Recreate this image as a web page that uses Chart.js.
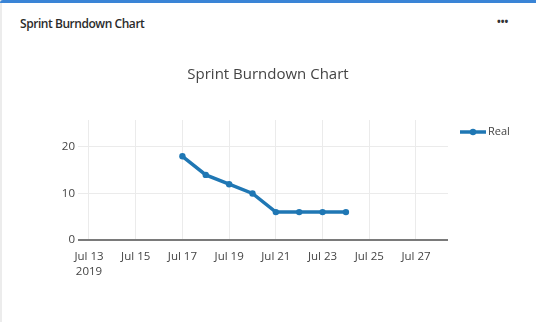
<!DOCTYPE html>
<html>
<head>
<meta charset="utf-8">
<script src="https://cdn.jsdelivr.net/npm/chart.js@4.4.1/dist/chart.umd.min.js"></script>
<style>
  html, body { margin: 0; padding: 0; background: #fff; }
  body { width: 536px; height: 322px; position: relative; overflow: hidden; font-family: "Open Sans", sans-serif; }
  .leftedge { position: absolute; left: 0; top: 0; width: 2px; height: 322px; background: #ececec; }
  .topbar { position: absolute; left: 0; top: 0; width: 536px; height: 3px; background: #3a84d6; border-top-left-radius: 3px; }
  .hdr { position: absolute; left: 20px; top: 15px; font-size: 12px; font-weight: 600; color: #2b2b2b; letter-spacing: -0.45px; }
  .dots { position: absolute; left: 497px; top: 14px; font-size: 10px; font-weight: 700; color: #333; letter-spacing: 0px; }
  canvas { position: absolute; left: 0; top: 0; }
</style>
</head>
<body>
<div class="leftedge"></div>
<div class="topbar"></div>
<div class="hdr">Sprint Burndown Chart</div>
<div class="dots">•••</div>
<canvas id="c" width="536" height="322"></canvas>
<script>
// Data (x = day of July 2019)
const seriesName = "Real";
const days = [17, 18, 19, 20, 21, 22, 23, 24];
const remaining = [18, 14, 12, 10, 6, 6, 6, 6];
const xTickDays = [13, 15, 17, 19, 21, 23, 25, 27];
const xTickLabels = [["Jul 13", "2019"], "Jul 15", "Jul 17", "Jul 19", "Jul 21", "Jul 23", "Jul 25", "Jul 27"];
const yTicks = [0, 10, 20];
const chartTitle = "Sprint Burndown Chart";

const lineColor = "#1f77b4";
const textColor = "#444";

const legendPlugin = {
  id: "plotlyLegend",
  afterDraw(chart) {
    const ctx = chart.ctx;
    const ds = chart.data.datasets[0];
    const y = 132;
    ctx.save();
    ctx.strokeStyle = ds.borderColor;
    ctx.lineWidth = 3.5;
    ctx.beginPath();
    ctx.moveTo(460, y);
    ctx.lineTo(486, y);
    ctx.stroke();
    ctx.fillStyle = ds.borderColor;
    ctx.beginPath();
    ctx.arc(473, y, 3.2, 0, Math.PI * 2);
    ctx.fill();
    ctx.fillStyle = textColor;
    ctx.font = '11px "Open Sans"';
    ctx.textBaseline = "middle";
    ctx.textAlign = "left";
    ctx.fillText(ds.label, 488, y);
    ctx.restore();
  }
};

new Chart(document.getElementById("c"), {
  type: "line",
  data: {
    datasets: [{
      label: seriesName,
      data: days.map((d, i) => ({ x: d, y: remaining[i] })),
      borderColor: lineColor,
      backgroundColor: lineColor,
      borderWidth: 3.5,
      pointRadius: 3.2,
      pointBackgroundColor: lineColor,
      pointBorderWidth: 0,
      tension: 0,
      fill: false
    }]
  },
  options: {
    responsive: false,
    animation: false,
    layout: { padding: { left: 0, right: 0, top: 0, bottom: 0 } },
    plugins: {
      legend: { display: false },
      tooltip: { enabled: false },
      title: {
        display: true,
        text: chartTitle,
        color: textColor,
        font: { family: "Open Sans", size: 15, weight: "normal", lineHeight: 1.2 },
        padding: { top: 66, bottom: 36 }
      }
    },
    scales: {
      x: {
        type: "linear",
        min: 12.53,
        max: 28.37,
        border: { display: false },
        grid: { color: "#ebebeb", lineWidth: 1, drawTicks: false },
        ticks: {
          padding: 9,
          color: textColor,
          maxRotation: 0,
          autoSkip: false,
          font: { family: "Open Sans", size: 11.5, lineHeight: 1.3 },
          callback: (v) => {
            const i = xTickDays.indexOf(v);
            return i >= 0 ? xTickLabels[i] : "";
          }
        },
        afterBuildTicks: (axis) => { axis.ticks = xTickDays.map(v => ({ value: v })); },
        afterFit: (axis) => { axis.height = 82; }
      },
      y: {
        min: 0,
        max: 25.8,
        border: { display: false },
        grid: {
          drawTicks: false,
          color: (c) => c.tick && c.tick.value === 0 ? "#7a7a7a" : "#ebebeb",
          lineWidth: (c) => c.tick && c.tick.value === 0 ? 2 : 1
        },
        ticks: {
          padding: 3,
          color: textColor,
          font: { family: "Open Sans", size: 11.5 }
        },
        afterBuildTicks: (axis) => { axis.ticks = yTicks.map(v => ({ value: v })); },
        afterFit: (axis) => { axis.width = 78; }
      },
      yRightSpace: {
        position: "right",
        display: true,
        min: 0,
        max: 1,
        border: { display: false },
        grid: { display: false, drawTicks: false },
        ticks: { display: false },
        afterFit: (axis) => { axis.width = 88; }
      }
    }
  },
  plugins: [legendPlugin]
});
</script>
</body>
</html>
